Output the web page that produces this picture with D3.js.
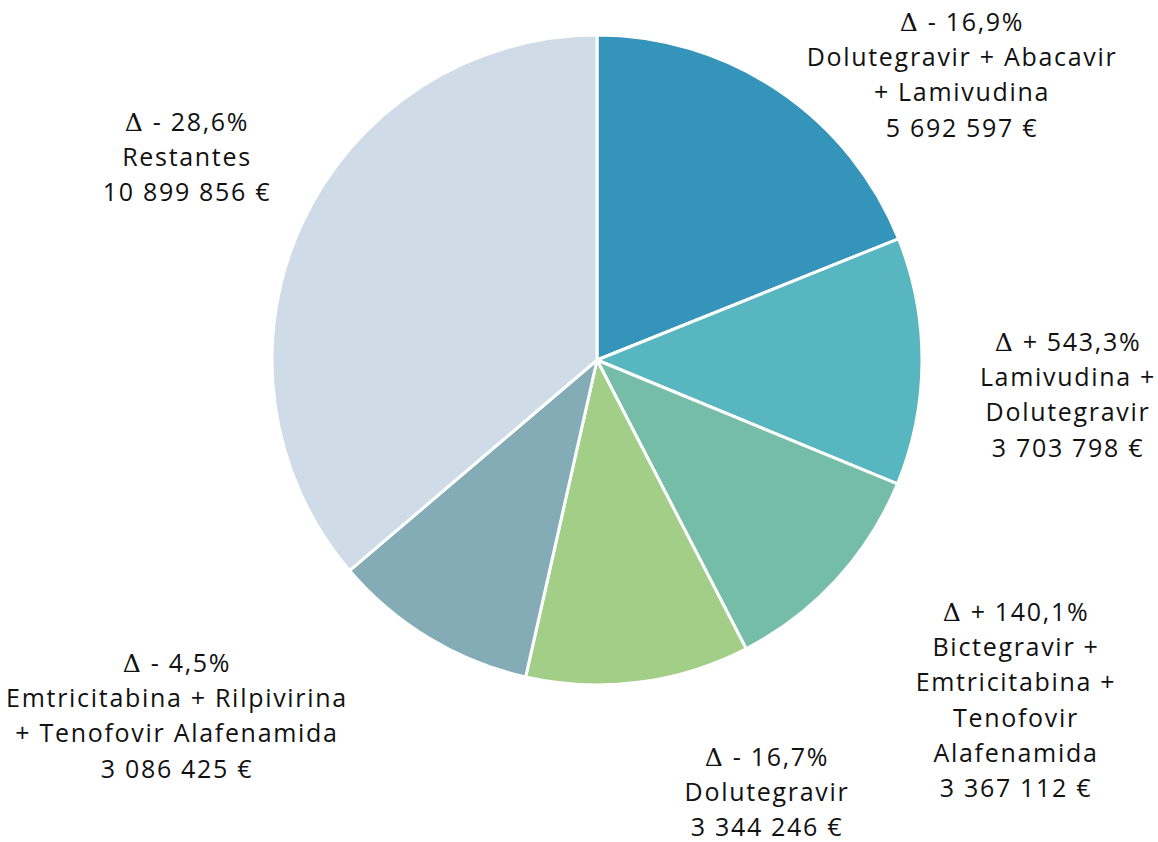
<!DOCTYPE html>
<html lang="pt">
<head>
  <meta charset="utf-8">
  <title>Pie chart</title>
  <script src="https://cdnjs.cloudflare.com/ajax/libs/d3/7.8.5/d3.min.js"></script>
  <style>
    body { margin: 0; background: #fff; }
    text { font-family: "Open Sans", "Noto Sans", sans-serif; font-size: 25px; fill: #111; letter-spacing: 1.7px; }
    .delta { font-family: "DejaVu Serif", serif; font-weight: 300; }
  </style>
</head>
<body>
  <script>
    var width = 1158;
    var height = 842;

    // data
    var names = [
      ["Dolutegravir + Abacavir", "+ Lamivudina"],
      ["Lamivudina +", "Dolutegravir"],
      ["Bictegravir +", "Emtricitabina +", "Tenofovir", "Alafenamida"],
      ["Dolutegravir"],
      ["Emtricitabina + Rilpivirina", "+ Tenofovir Alafenamida"],
      ["Restantes"]
    ];
    var values = [5692597, 3703798, 3367112, 3344246, 3086425, 10899856];
    var deltas = ["- 16,9%", "+ 543,3%", "+ 140,1%", "- 16,7%", "- 4,5%", "- 28,6%"];
    var colors = ["#3494BA", "#58B6C0", "#75BDA7", "#A3CE88", "#84ACB6", "#CFDBE6"];

    // label block layout (first line centre, relative to the pie centre)
    var labelPos = [[365, -338], [471, -18], [419, 252], [170, 397], [-420, 303], [-410, -238]];

    var cx = 597, cy = 360, radius = 325, lineH = 35.3;

    var fmt = function (v) {
      return String(v).replace(/\B(?=(\d{3})+(?!\d))/g, " ") + " €";
    };

    var svg = d3.select("body").append("svg")
      .attr("width", width)
      .attr("height", height);

    var g = svg.append("g").attr("transform", "translate(" + cx + "," + cy + ")");

    var pie = d3.pie().sort(null).value(function (d) { return d; });
    var arc = d3.arc().innerRadius(0).outerRadius(radius);

    g.selectAll("path")
      .data(pie(values))
      .enter()
      .append("path")
      .attr("d", arc)
      .attr("fill", function (d, i) { return colors[i]; })
      .attr("stroke", "#fff")
      .attr("stroke-width", 3)
      .attr("stroke-linejoin", "round");

    var labels = g.selectAll("g.label")
      .data(values)
      .enter()
      .append("g")
      .attr("class", "label")
      .attr("transform", function (d, i) {
        return "translate(" + labelPos[i][0] + "," + labelPos[i][1] + ")";
      });

    labels.each(function (d, i) {
      var el = d3.select(this);
      var lines = [null].concat(names[i]).concat([fmt(d)]);
      lines.forEach(function (ln, k) {
        var t = el.append("text")
          .attr("text-anchor", "middle")
          .attr("dy", "0.35em")
          .attr("y", k * lineH);
        if (k === 0) {
          t.append("tspan").attr("class", "delta").text("Δ");
          t.append("tspan").text(" " + deltas[i]);
        } else {
          t.text(ln);
        }
      });
    });
  </script>
</body>
</html>
